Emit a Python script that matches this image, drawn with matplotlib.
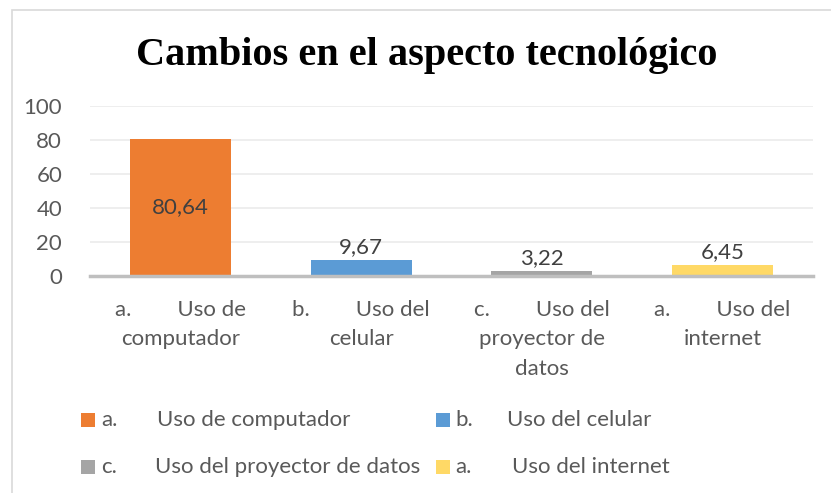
import matplotlib.pyplot as plt
from matplotlib.patches import Rectangle

# chart data
prefixes = ['a.', 'b.', 'c.', 'a.']
names = ['Uso de computador', 'Uso del celular', 'Uso del proyector de datos', 'Uso del internet']
categories = ['a.        Uso de\ncomputador', 'b.        Uso del\ncelular',
              'c.        Uso del\nproyector de\ndatos', 'a.        Uso del\ninternet']
values = [80.64, 9.67, 3.22, 6.45]
value_labels = ['80,64', '9,67', '3,22', '6,45']
colors = ['#ED7D31', '#5B9BD5', '#A5A5A5', '#FFD966']

plt.rcParams['font.family'] = ['Lato', 'DejaVu Sans']
txt = '#595959'
W, H = 831, 493


def fx(p):
    return p / W


def fy(p):
    return 1 - p / H


fig = plt.figure(figsize=(W / 100, H / 100), dpi=100)
fig.patches.append(Rectangle((fx(12), -0.05), 1.0, fy(10) + 0.05,
                             transform=fig.transFigure, fill=False,
                             edgecolor='#D9D9D9', linewidth=1.2))

ax = fig.add_axes([fx(90), fy(276), fx(723), 170 / H])
x = range(len(values))
ax.bar(x, values, width=0.56, color=colors, zorder=3)
ax.set_xlim(-0.5, len(values) - 0.5)
ax.set_ylim(0, 100)
ax.set_yticks([0, 20, 40, 60, 80, 100])
ax.yaxis.grid(True, color='#EBEBEB', linewidth=1.2, zorder=0)
for s in ['top', 'right', 'left']:
    ax.spines[s].set_visible(False)
ax.spines['bottom'].set_color('#BFBFBF')
ax.spines['bottom'].set_linewidth(2.5)
ax.spines['bottom'].set_zorder(4)
ax.tick_params(axis='both', length=0, labelsize=16, labelcolor=txt)
ax.tick_params(axis='y', pad=20)
ax.tick_params(axis='x', pad=17)
ax.set_xticks(list(x))
ax.set_xticklabels(categories, linespacing=1.6)

for i, (v, lab) in enumerate(zip(values, value_labels)):
    if v > 50:
        ax.text(i, v / 2, lab, ha='center', va='center', fontsize=16, color='#404040')
    else:
        ax.text(i, v + 1.5, lab, ha='center', va='bottom', fontsize=16, color='#404040')

fig.text(fx(427), fy(55), 'Cambios en el aspecto tecnológico',
         ha='center', va='center', fontsize=29, fontweight='bold',
         family='Liberation Serif', color='black')

# legend, laid out row by row like the original
sq_x = [81, 436, 81, 436]
pre_x = [101, 455, 101, 455]
name_x = [157, 507, 155, 512]
row_y = [420, 420, 467, 467]
for i in range(len(names)):
    fig.patches.append(Rectangle((fx(sq_x[i]), fy(row_y[i] + 7)), 14 / W, 14 / H,
                                 transform=fig.transFigure, facecolor=colors[i],
                                 edgecolor='none'))
    fig.text(fx(pre_x[i]), fy(row_y[i]), prefixes[i], ha='left', va='center',
             fontsize=16, color=txt)
    fig.text(fx(name_x[i]), fy(row_y[i]), names[i], ha='left', va='center',
             fontsize=16, color=txt)

fig.savefig('out.png', dpi=100)
